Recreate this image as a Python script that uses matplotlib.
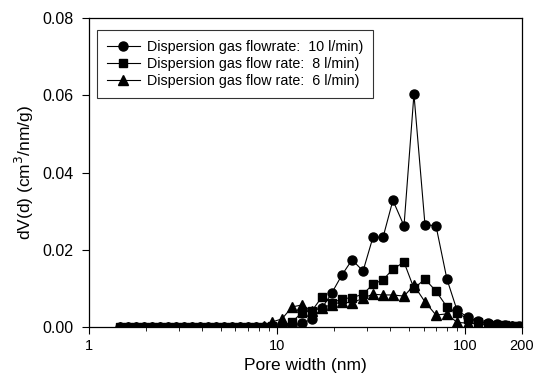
import matplotlib.pyplot as plt
from matplotlib.ticker import FixedLocator, NullFormatter

plt.rcParams['font.family'] = ['Liberation Sans', 'DejaVu Sans']

# Pore width (nm), shared by the three runs
pore_width = [1.46, 1.61, 1.78, 1.96, 2.16, 2.38, 2.63, 2.90, 3.20, 3.53,
              3.89, 4.29, 4.73, 5.22, 5.75, 6.34, 7.00, 7.72, 8.51, 9.38,
              10.6, 12.0, 13.5, 15.3, 17.3, 19.5, 22.1, 25.0, 28.6, 32.3,
              36.5, 41.2, 47.2, 53.3, 61.0, 69.8, 79.8, 90.2, 103, 117,
              132, 147, 162, 177, 193]

# dV(d) (cm3/nm/g)
flow_10 = [0, 0, 0, 0, 0, 0, 0, 0, 0, 0,
           0, 0, 0, 0, 0, 0, 0, 0, 0, 0.0001,
           0.0002, 0.0005, 0.001, 0.002, 0.0049, 0.0088, 0.0135, 0.0174, 0.0145, 0.0233,
           0.0232, 0.0328, 0.0262, 0.0603, 0.0265, 0.0262, 0.0124, 0.0044, 0.0025, 0.0015,
           0.001, 0.0007, 0.0005, 0.0003, 0.0002]
flow_8 = [0, 0, 0, 0, 0, 0, 0, 0, 0, 0,
          0, 0, 0, 0, 0, 0, 0, 0, 0, 0.0002,
          0.0003, 0.0013, 0.0037, 0.0042, 0.0078, 0.0062, 0.0073, 0.0076, 0.0085, 0.0111,
          0.0122, 0.015, 0.0168, 0.010, 0.0124, 0.0093, 0.0052, 0.0036, 0.0022, 0.0014,
          0.0009, 0.0006, 0.0004, 0.0003, 0.0002]
flow_6 = [0, 0, 0, 0, 0, 0, 0, 0, 0, 0,
          0, 0, 0, 0, 0, 0, 0, 0, 0.0003, 0.0013,
          0.0021, 0.0052, 0.0057, 0.0042, 0.005, 0.0058, 0.0065, 0.0062, 0.0075, 0.0085,
          0.0083, 0.0083, 0.008, 0.0108, 0.0065, 0.0031, 0.0034, 0.0012, 0.001, 0.0008,
          0.0006, 0.0005, 0.0003, 0.0002, 0.0001]

labels = ['Dispersion gas flowrate:  10 l/min)',
          'Dispersion gas flow rate:  8 l/min)',
          'Dispersion gas flow rate:  6 l/min)']

fig = plt.figure(figsize=(5.44, 3.84), dpi=100)
ax = fig.add_axes([0.1636, 0.1484, 0.7960, 0.8046])

ax.plot(pore_width, flow_10, color='black', lw=0.8, marker='o', ms=6.5, label=labels[0])
ax.plot(pore_width, flow_8, color='black', lw=0.8, marker='s', ms=6, label=labels[1])
ax.plot(pore_width, flow_6, color='black', lw=0.8, marker='^', ms=6.5, label=labels[2])

ax.set_xscale('log')
ax.set_xlim(1, 200)
ax.set_ylim(0, 0.08)
ax.xaxis.set_major_locator(FixedLocator([1, 10, 100, 200]))
ax.set_xticklabels(['1', '10', '100', '200'])
ax.xaxis.set_minor_locator(FixedLocator([2, 3, 4, 5, 6, 7, 8, 9, 20, 30, 40, 50, 60, 70, 80, 90]))
ax.xaxis.set_minor_formatter(NullFormatter())
ax.set_yticks([0, 0.02, 0.04, 0.06, 0.08])
ax.set_yticklabels(['0.00', '0.02', '0.04', '0.06', '0.08'])
ax.tick_params(axis='both', which='major', direction='out', length=5, width=0.8)
ax.tick_params(axis='x', which='major', labelsize=10.5, pad=3.5)
ax.tick_params(axis='y', which='major', labelsize=11.5, pad=6)
ax.tick_params(axis='x', which='minor', direction='out', length=3, width=0.6)
ax.tick_params(top=False, right=False, which='both')
for s in ax.spines.values():
    s.set_linewidth(0.9)

ax.set_xlabel('Pore width (nm)', fontsize=12.5, labelpad=4)
ax.set_ylabel('dV(d) (cm$^3$/nm/g)', fontsize=12.5, labelpad=5)

leg = ax.legend(loc='upper left', bbox_to_anchor=(0.018, 0.961), borderaxespad=0,
                fontsize=10.3, frameon=True, fancybox=False, edgecolor='black',
                handlelength=2.3, borderpad=0.7, labelspacing=0.2, handletextpad=0.5)
leg.get_frame().set_linewidth(0.8)

fig.savefig('out.png', dpi=100)
